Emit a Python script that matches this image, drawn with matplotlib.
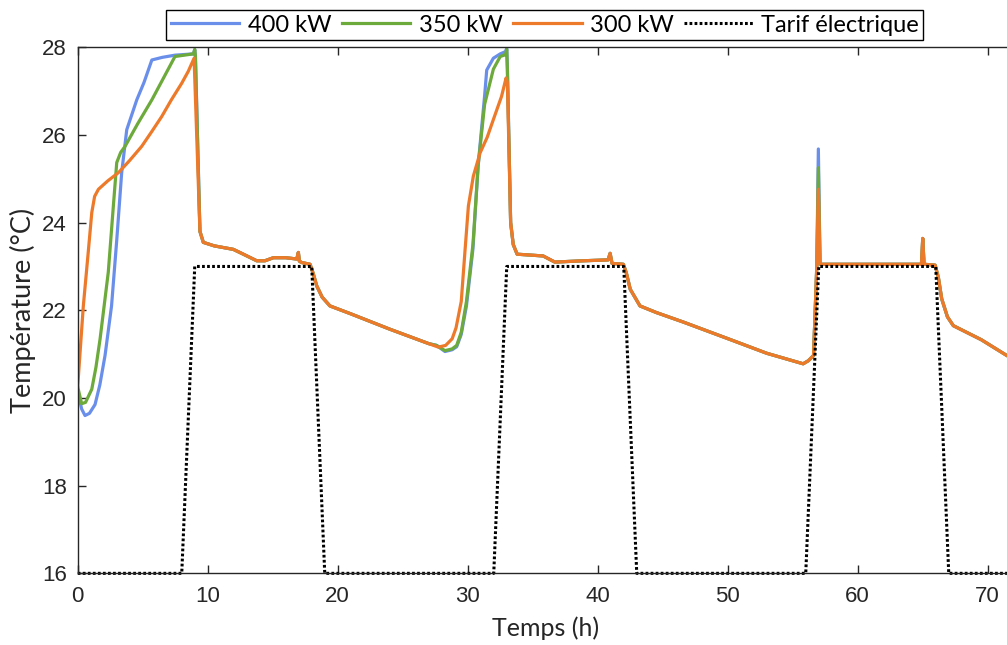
import numpy as np
import matplotlib
matplotlib.use("Agg")
import matplotlib.pyplot as plt

# ---------------- data ----------------
# first heating phase (own for each power)
t0_400 = [0, 0.3, 0.56, 0.9, 1.33, 1.7, 2.1, 2.6, 3.0, 3.38, 3.77, 4.54, 5.1, 5.7, 6.5, 7.48, 8.9, 9.0, 9.05]
T0_400 = [20.14, 19.75, 19.6, 19.65, 19.85, 20.3, 20.97, 22.1, 23.6, 25.14, 26.12, 26.8, 27.2, 27.71, 27.77, 27.82, 27.85, 27.95, 27.8]
t0_350 = [0, 0.3, 0.6, 1.08, 1.4, 1.72, 2.35, 2.74, 3.0, 3.3, 3.64, 4.6, 5.7, 6.6, 7.48, 8.9, 9.0, 9.05]
T0_350 = [20.25, 19.87, 19.9, 20.2, 20.7, 21.35, 22.87, 24.38, 25.37, 25.6, 25.74, 26.25, 26.8, 27.3, 27.79, 27.85, 27.95, 27.8]
t0_300 = [0, 0.43, 0.8, 1.08, 1.3, 1.59, 2.3, 3.13, 4.0, 4.92, 5.7, 6.46, 7.2, 8.0, 8.5, 8.95]
T0_300 = [20.28, 22.1, 23.3, 24.23, 24.6, 24.76, 24.95, 25.14, 25.42, 25.74, 26.08, 26.42, 26.8, 27.18, 27.45, 27.75]

# common segment after first peak
tA = [9.4, 9.66, 10.5, 11.97, 12.74, 13.77, 14.4, 15.05, 16.0, 16.85, 16.97, 17.05, 17.23, 17.87, 18.1, 18.38, 18.8, 19.4, 21.0, 24.0, 27.0]
TA = [23.8, 23.55, 23.47, 23.39, 23.28, 23.13, 23.13, 23.2, 23.2, 23.17, 23.32, 23.12, 23.09, 23.05, 22.85, 22.56, 22.3, 22.1, 21.92, 21.57, 21.24]

# second heating phase
t1_400 = [27.6, 28.25, 28.8, 29.15, 29.5, 29.9, 30.4, 30.8, 31.3, 31.46, 31.97, 32.5, 32.9, 33.0, 33.05, 33.3, 33.5]
T1_400 = [21.2, 21.06, 21.1, 21.17, 21.45, 22.1, 23.4, 25.3, 26.9, 27.48, 27.75, 27.85, 27.9, 27.98, 27.5, 24.0, 23.5]
t1_350 = [27.6, 28.25, 28.8, 29.15, 29.5, 29.9, 30.4, 30.8, 31.3, 31.97, 32.5, 32.9, 33.0, 33.05, 33.3, 33.5]
T1_350 = [21.2, 21.08, 21.12, 21.2, 21.5, 22.2, 23.5, 25.3, 26.7, 27.5, 27.79, 27.83, 27.95, 27.5, 24.0, 23.5]
t1_300 = [27.74, 28.3, 28.8, 29.1, 29.5, 29.8, 30.05, 30.43, 30.95, 31.5, 31.97, 32.6, 32.95, 33.05, 33.3, 33.5]
T1_300 = [21.16, 21.2, 21.35, 21.6, 22.2, 23.4, 24.38, 25.06, 25.59, 25.95, 26.35, 26.88, 27.3, 27.2, 24.0, 23.5]

# common segment after second peak
tB = [33.8, 35.8, 36.7, 38.9, 40.8, 40.95, 41.1, 41.97, 42.2, 42.5, 43.25, 44.5, 46.6, 50.4, 53.0, 55.8, 56.2, 56.6, 56.85]
TB = [23.28, 23.24, 23.1, 23.13, 23.15, 23.3, 23.07, 23.05, 22.85, 22.48, 22.1, 21.95, 21.73, 21.31, 21.02, 20.78, 20.85, 20.97, 23.0]

# spike at 57 h
t_spike = [56.97]
T_spike_400 = [25.68]
T_spike_350 = [25.25]
T_spike_300 = [24.76]

# common final segment
tC = [57.1, 60, 63, 64.9, 65.0, 65.1, 65.95, 66.2, 66.46, 66.9, 67.35, 69.5, 71.46, 72]
TC = [23.05, 23.05, 23.05, 23.05, 23.64, 23.05, 23.03, 22.75, 22.26, 21.85, 21.65, 21.33, 20.97, 20.88]

# electricity tariff (dotted)
tariff_t = [0, 8, 9, 18, 19, 32, 33, 42, 43, 56, 57, 66, 67, 72]
tariff_T = [16, 16, 23, 23, 16, 16, 23, 23, 16, 16, 23, 23, 16, 16]

labels = ["400 kW", "350 kW", "300 kW", "Tarif électrique"]
colors = ["#6A8FEA", "#6DAA3C", "#EC7A2A"]

def build(t0, T0, t1, T1, Ts):
    t = list(t0) + tA + list(t1) + tB + t_spike + tC
    T = list(T0) + TA + list(T1) + TB + list(Ts) + TC
    return np.array(t), np.array(T)

series = [
    build(t0_400, T0_400, t1_400, T1_400, T_spike_400),
    build(t0_350, T0_350, t1_350, T1_350, T_spike_350),
    build(t0_300, T0_300, t1_300, T1_300, T_spike_300),
]

# ---------------- plot ----------------
fig = plt.figure(figsize=(10.07, 6.45), dpi=100)
ax = fig.add_axes([0.0772, 0.1111, 0.9295, 0.8156])

handles = []
for (t, T), c, lab in zip(series, colors, labels[:3]):
    h, = ax.plot(t, T, color=c, lw=2.3, label=lab, solid_joinstyle="round")
    handles.append(h)
h, = ax.plot(tariff_t, tariff_T, color="black", lw=2.2, linestyle=(0, (0.9, 0.75)),
             label=labels[3], clip_on=False, dash_capstyle="butt")
handles.append(h)

ax.set_xlim(0, 72)
ax.set_ylim(16, 28)
ax.set_xticks(np.arange(0, 71, 10))
ax.set_yticks(np.arange(16, 29, 2))

tickfont = "Liberation Sans"
for lbl in ax.get_xticklabels() + ax.get_yticklabels():
    lbl.set_fontfamily(tickfont)
    lbl.set_fontsize(16)
    lbl.set_color("#262626")

ax.tick_params(direction="in", length=6, width=1, color="#262626", top=True, right=False)
ax.tick_params(axis="x", pad=9)
ax.tick_params(axis="y", pad=8)
for s in ax.spines.values():
    s.set_color("#262626")
    s.set_linewidth(1)

ax.set_xlabel("Temps (h)", fontfamily="Lato", fontsize=18, color="#262626", labelpad=7)
ax.set_ylabel("Température (°C)", fontfamily="Lato", fontsize=19.5, color="#262626", labelpad=4)

leg = fig.legend(handles, labels, loc="center", bbox_to_anchor=(0.541, 0.961), ncol=4,
                 frameon=True, fancybox=False, edgecolor="black", framealpha=1,
                 prop={"family": "Lato", "size": 17}, handlelength=2.9, handletextpad=0.35,
                 columnspacing=0.45, borderpad=0.2, borderaxespad=0)
leg.get_frame().set_linewidth(1)

fig.savefig("out.png", dpi=100)
